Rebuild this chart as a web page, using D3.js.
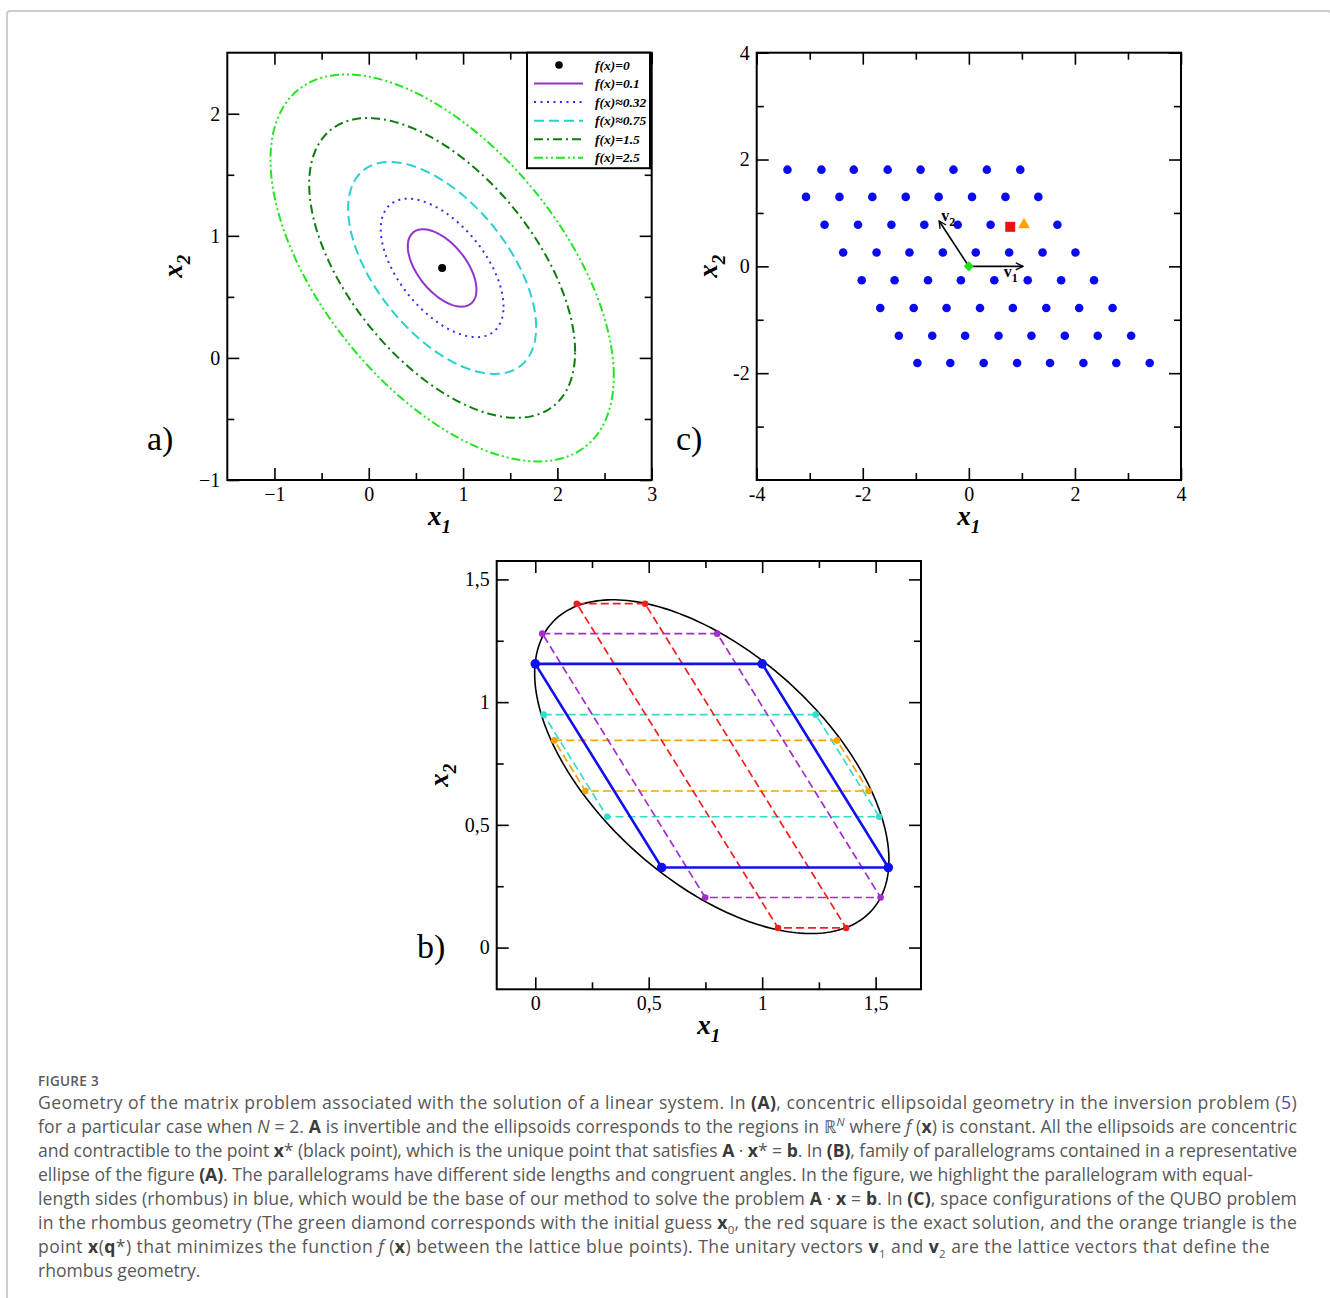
<!DOCTYPE html>
<html>
<head>
<meta charset="utf-8">
<script src="https://cdn.jsdelivr.net/npm/d3@7"></script>
<style>
  body { margin: 0; background: #fff; }
  #border { position: absolute; left: 6px; top: 10px; width: 1322px; height: 1330px;
            border: 2px solid #cdcdcd; border-bottom: none; border-radius: 4px 4px 0 0; }
  #chart { position: absolute; left: 0; top: 0; }
  #figlabel { position: absolute; left: 38px; top: 1071px; font-family: "Open Sans", "Noto Sans", sans-serif;
              font-size: 13.5px; font-weight: 600; color: #5a5a5a; letter-spacing: 0.3px; line-height: 20px; }
  #caption { position: absolute; left: 38px; top: 1090px; font-family: "Open Sans", "Noto Sans", sans-serif;
             font-size: 17.6px; font-weight: 400; color: #585858; }
  .cl { white-space: nowrap; height: 24px; line-height: 24px; text-align: left; }
  .cl b { font-weight: 700; color: #3a3a3a; }
  .cl sub, .cl sup { font-size: 11.5px; line-height: 0; }
  .cl .lnk { color: #4a4ab0; }
</style>
</head>
<body>
<div id="border"></div>
<div id="chart"></div>
<div id="figlabel">FIGURE 3</div>
<div id="caption"></div>
<script>
// ---------- panel a: level sets of f(x) around x*
const xStar = [0.778, 0.737];
const formInv = [[1.325, -0.645], [-0.645, 1.005]];   // inverse of the quadratic form
const levelValues = [0.1, 0.32, 0.75, 1.5, 2.5];
const levelLabels = ["f(x)=0", "f(x)=0.1", "f(x)≈0.32", "f(x)≈0.75", "f(x)=1.5", "f(x)=2.5"];
const levelColors = ["#000000", "#9134c9", "#2f2ff2", "#2ad0d0", "#0d7d0d", "#22e622"];
const levelDashes = [null, null, "2,4.5", "10,5", "9,4,2,4", "9,3,2,3,2,3"];

// ---------- panel b: parallelograms inside the ellipse f(x)=0.46
const levelB = 0.46;
const pgRed    = [[0.183, 1.401], [0.484, 1.401], [1.370, 0.080], [1.070, 0.080]];
const pgPurple = [[0.031, 1.279], [0.802, 1.279], [1.522, 0.204], [0.749, 0.204]];
const pgCyan   = [[0.037, 0.949], [1.236, 0.949], [1.516, 0.533], [0.317, 0.533]];
const pgOrange = [[0.084, 0.844], [1.330, 0.844], [1.469, 0.638], [0.221, 0.638]];
const pgBlue   = [[0.000, 1.156], [1.000, 1.156], [1.556, 0.326], [0.557, 0.326]];

// ---------- panel c: lattice points, one row per x2 value
const latticeRowsY = [1.81, 1.30, 0.78, 0.26, -0.26, -0.78, -1.30, -1.81];
const latticeRowsX = [
  [-3.42, -2.78, -2.17, -1.53, -0.91, -0.29, 0.34, 0.97],
  [-3.07, -2.44, -1.82, -1.19, -0.57, 0.06, 0.69, 1.31],
  [-2.72, -2.09, -1.46, -0.84, -0.21, 0.41, 1.67],
  [-2.37, -1.74, -1.12, -0.49, 0.13, 0.76, 1.39, 2.01],
  [-2.02, -1.40, -0.77, -0.15, 0.48, 1.11, 1.74, 2.36],
  [-1.67, -1.04, -0.42, 0.21, 0.83, 1.46, 2.08, 2.71],
  [-1.32, -0.69, -0.07, 0.56, 1.18, 1.81, 2.43, 3.06],
  [-0.97, -0.35, 0.28, 0.91, 1.53, 2.16, 2.78, 3.41]
];
const initialGuess = [0, 0];
const exactSolution = [0.78, 0.74];
const bestLattice = [1.04, 0.78];
const v1 = [1.02, 0];
const v2 = [-0.56, 0.85];

const captionLines = [
  'Geometry of the matrix problem associated with the solution of a linear system. In <b>(A)</b>, concentric ellipsoidal geometry in the inversion problem (<span class="lnk">5</span>)',
  'for a particular case when <i>N</i> = 2. <b>A</b> is invertible and the ellipsoids corresponds to the regions in ℝ<sup><i>N</i></sup> where <i>f</i> (<b>x</b>) is constant. All the ellipsoids are concentric',
  'and contractible to the point <b>x</b>* (black point), which is the unique point that satisfies <b>A</b> · <b>x</b>* = <b>b</b>. In <b>(B)</b>, family of parallelograms contained in a representative',
  'ellipse of the figure <b>(A)</b>. The parallelograms have different side lengths and congruent angles. In the figure, we highlight the parallelogram with equal-',
  'length sides (rhombus) in blue, which would be the base of our method to solve the problem <b>A</b> · <b>x</b> = <b>b</b>. In <b>(C)</b>, space configurations of the QUBO problem',
  'in the rhombus geometry (The green diamond corresponds with the initial guess <b>x</b><sub>0</sub>, the red square is the exact solution, and the orange triangle is the',
  'point <b>x</b>(<b>q</b>*) that minimizes the function <i>f</i> (<b>x</b>) between the lattice blue points). The unitary vectors <b>v</b><sub>1</sub> and <b>v</b><sub>2</sub> are the lattice vectors that define the',
  'rhombus geometry.'
];
const captionWidths = [1259, 1259, 1259, 1215, 1259, 1259, 1232, 0];

const SERIF = "'Liberation Serif', 'Times New Roman', serif";

const svg = d3.select("#chart").append("svg")
  .attr("width", 1330)
  .attr("height", 1060);

// Frame with inward ticks on all four sides, labels on bottom and left.
function panel(o) {
  const x = d3.scaleLinear().domain(o.xDomain).range([o.left, o.right]);
  const y = d3.scaleLinear().domain(o.yDomain).range([o.bottom, o.top]);
  const g = svg.append("g");
  const sides = [
    {make: d3.axisBottom, s: x, at: `translate(0,${o.bottom})`, major: o.xMajor, minor: o.xMinor, labels: true},
    {make: d3.axisTop, s: x, at: `translate(0,${o.top})`, major: o.xMajor, minor: o.xMinor, labels: false},
    {make: d3.axisLeft, s: y, at: `translate(${o.left},0)`, major: o.yMajor, minor: o.yMinor, labels: true},
    {make: d3.axisRight, s: y, at: `translate(${o.right},0)`, major: o.yMajor, minor: o.yMinor, labels: false}
  ];
  sides.forEach(sd => {
    g.append("g").attr("transform", sd.at)
      .call(sd.make(sd.s).tickValues(sd.minor).tickSize(-7).tickFormat(""));
    g.append("g").attr("transform", sd.at)
      .call(sd.make(sd.s).tickValues(sd.major).tickSize(-12).tickPadding(7)
        .tickFormat(sd.labels ? o.fmt : ""));
  });
  g.selectAll(".domain").remove();
  g.selectAll(".tick line").attr("stroke", "#000").attr("stroke-width", 1.6);
  g.selectAll(".tick text").attr("font-family", SERIF).attr("font-size", 20).attr("fill", "#000");

  g.append("rect")
    .attr("x", o.left).attr("y", o.top)
    .attr("width", o.right - o.left).attr("height", o.bottom - o.top)
    .attr("fill", "none").attr("stroke", "#000").attr("stroke-width", 2);

  // axis titles
  const cx = (o.left + o.right) / 2, cy = (o.top + o.bottom) / 2;
  const tx = svg.append("text")
    .attr("x", cx).attr("y", o.bottom + 45)
    .attr("text-anchor", "middle")
    .attr("font-family", SERIF).attr("font-weight", "bold").attr("font-style", "italic")
    .attr("font-size", 27);
  tx.append("tspan").text("x");
  tx.append("tspan").attr("font-size", 19).attr("dy", 8).text("1");

  const ty = svg.append("text")
    .attr("transform", `translate(${o.left - o.titleGap},${cy}) rotate(-90)`)
    .attr("text-anchor", "middle")
    .attr("font-family", SERIF).attr("font-weight", "bold").attr("font-style", "italic")
    .attr("font-size", 27);
  ty.append("tspan").text("x");
  ty.append("tspan").attr("font-size", 19).attr("dy", 8).text("2");

  svg.append("text")
    .attr("x", o.tagX).attr("y", o.tagY)
    .attr("font-family", SERIF).attr("font-size", 34)
    .text(o.tag);

  return {x, y, g};
}

function ellipsePoints(c) {
  const l11 = Math.sqrt(formInv[0][0]);
  const l21 = formInv[1][0] / l11;
  const l22 = Math.sqrt(formInv[1][1] - l21 * l21);
  const r = Math.sqrt(c);
  return d3.range(0, 360, 1.5).map(a => {
    const t = a * Math.PI / 180;
    return [xStar[0] + r * l11 * Math.cos(t), xStar[1] + r * (l21 * Math.cos(t) + l22 * Math.sin(t))];
  });
}

// ================= panel a =================
const pa = panel({
  left: 227.3, right: 651.7, top: 52.7, bottom: 480,
  xDomain: [-1.5, 3], yDomain: [-1, 2.5],
  xMajor: [-1, 0, 1, 2, 3], xMinor: [-0.5, 0.5, 1.5, 2.5],
  yMajor: [-1, 0, 1, 2], yMinor: [-0.5, 0.5, 1.5],
  fmt: d3.format("d"), titleGap: 45, tag: "a)", tagX: 147, tagY: 450
});

const lineA = d3.line().x(d => pa.x(d[0])).y(d => pa.y(d[1])).curve(d3.curveLinearClosed);

pa.g.selectAll("path.level")
  .data(levelValues)
  .join("path")
  .attr("class", "level")
  .attr("d", d => lineA(ellipsePoints(d)))
  .attr("fill", "none")
  .attr("stroke", (d, i) => levelColors[i + 1])
  .attr("stroke-width", 2)
  .attr("stroke-dasharray", (d, i) => levelDashes[i + 1]);

pa.g.append("circle")
  .attr("cx", pa.x(xStar[0])).attr("cy", pa.y(xStar[1])).attr("r", 4)
  .attr("fill", "#000");

// legend
const legend = pa.g.append("g");
legend.append("rect")
  .attr("x", 527).attr("y", 52.7).attr("width", 123).attr("height", 115.5)
  .attr("fill", "#fff").attr("stroke", "#000").attr("stroke-width", 2);
levelLabels.forEach((lab, i) => {
  const yy = 65 + i * 18.55;
  if (i === 0) {
    legend.append("circle").attr("cx", 559).attr("cy", yy).attr("r", 3.8).attr("fill", "#000");
  } else {
    legend.append("line")
      .attr("x1", 534).attr("x2", 583).attr("y1", yy).attr("y2", yy)
      .attr("stroke", levelColors[i]).attr("stroke-width", 2)
      .attr("stroke-dasharray", levelDashes[i]);
  }
  legend.append("text")
    .attr("x", 595).attr("y", yy + 4.5)
    .attr("font-family", SERIF).attr("font-weight", "bold").attr("font-style", "italic")
    .attr("font-size", 13.5)
    .text(lab);
});

// ================= panel c =================
const pc = panel({
  left: 756.7, right: 1181, top: 52.7, bottom: 480,
  xDomain: [-4, 4], yDomain: [-4, 4],
  xMajor: [-4, -2, 0, 2, 4], xMinor: [-3, -1, 1, 3],
  yMajor: [-2, 0, 2, 4], yMinor: [-3, -1, 1, 3],
  fmt: d => String(d), titleGap: 40, tag: "c)", tagX: 676, tagY: 450
});

const lattice = latticeRowsY.flatMap((yv, r) => latticeRowsX[r].map(xv => [xv, yv]));
pc.g.selectAll("circle.lat")
  .data(lattice)
  .join("circle")
  .attr("class", "lat")
  .attr("cx", d => pc.x(d[0])).attr("cy", d => pc.y(d[1])).attr("r", 4.3)
  .attr("fill", "#0a0af0");

svg.append("defs").append("marker")
  .attr("id", "arr").attr("viewBox", "0 0 10 10")
  .attr("refX", 9).attr("refY", 5)
  .attr("markerWidth", 9).attr("markerHeight", 9)
  .attr("markerUnits", "userSpaceOnUse")
  .attr("orient", "auto")
  .append("path").attr("d", "M1,1 L9,5 L1,9")
  .attr("fill", "none").attr("stroke", "#000").attr("stroke-width", 1.5);

[v1, v2].forEach(v => {
  pc.g.append("line")
    .attr("x1", pc.x(initialGuess[0])).attr("y1", pc.y(initialGuess[1]))
    .attr("x2", pc.x(initialGuess[0] + v[0])).attr("y2", pc.y(initialGuess[1] + v[1]))
    .attr("stroke", "#000").attr("stroke-width", 1.6)
    .attr("marker-end", "url(#arr)");
});

function vecLabel(px, py, sub) {
  const t = pc.g.append("text").attr("x", px).attr("y", py)
    .attr("font-family", SERIF).attr("font-weight", "bold").attr("font-size", 16);
  t.append("tspan").text("v");
  t.append("tspan").attr("font-size", 12).attr("dy", 5).text(sub);
}
vecLabel(pc.x(0.66), pc.y(-0.2), "1");
vecLabel(pc.x(-0.52), pc.y(0.85), "2");

pc.g.append("path")
  .attr("d", d3.symbol(d3.symbolSquare, 52)())
  .attr("transform", `translate(${pc.x(initialGuess[0])},${pc.y(initialGuess[1])}) rotate(45)`)
  .attr("fill", "#22dd22");
pc.g.append("path")
  .attr("d", d3.symbol(d3.symbolSquare, 100)())
  .attr("transform", `translate(${pc.x(exactSolution[0])},${pc.y(exactSolution[1])})`)
  .attr("fill", "#ee1111");
pc.g.append("path")
  .attr("d", d3.symbol(d3.symbolTriangle, 62)())
  .attr("transform", `translate(${pc.x(bestLattice[0])},${pc.y(bestLattice[1])})`)
  .attr("fill", "#ffa200");

// ================= panel b =================
const commaFmt = d => String(d).replace(".", ",");
const pb = panel({
  left: 496.7, right: 921, top: 561, bottom: 989.3,
  xDomain: [-0.17, 1.7], yDomain: [-0.17, 1.575],
  xMajor: [0, 0.5, 1, 1.5], xMinor: [0.25, 0.75, 1.25],
  yMajor: [0, 0.5, 1, 1.5], yMinor: [0.25, 0.75, 1.25],
  fmt: commaFmt, titleGap: 49, tag: "b)", tagX: 417, tagY: 958
});

pb.g.append("path")
  .attr("d", d3.line().x(d => pb.x(d[0])).y(d => pb.y(d[1])).curve(d3.curveLinearClosed)(ellipsePoints(levelB)))
  .attr("fill", "none").attr("stroke", "#000").attr("stroke-width", 1.6);

const closed = d3.line().x(d => pb.x(d[0])).y(d => pb.y(d[1])).curve(d3.curveLinearClosed);
const dashedSets = [
  {pts: pgCyan, color: "#35dccc"},
  {pts: pgOrange, color: "#ffa100"},
  {pts: pgPurple, color: "#a22ed0"},
  {pts: pgRed, color: "#f21d1d"}
];
dashedSets.forEach(s => {
  pb.g.append("path").attr("d", closed(s.pts))
    .attr("fill", "none").attr("stroke", s.color).attr("stroke-width", 1.7)
    .attr("stroke-dasharray", "8,4");
});
pb.g.append("path").attr("d", closed(pgBlue))
  .attr("fill", "none").attr("stroke", "#1010f0").attr("stroke-width", 2.6);

dashedSets.forEach(s => {
  pb.g.selectAll(null).data(s.pts).join("circle")
    .attr("cx", d => pb.x(d[0])).attr("cy", d => pb.y(d[1])).attr("r", 3.3)
    .attr("fill", s.color);
});
pb.g.selectAll(null).data(pgBlue).join("circle")
  .attr("cx", d => pb.x(d[0])).attr("cy", d => pb.y(d[1])).attr("r", 4.8)
  .attr("fill", "#1010f0");

// ================= caption =================
const cap = d3.select("#caption");
cap.selectAll("div.cl")
  .data(captionLines)
  .join("div")
  .attr("class", "cl")
  .html(d => d)
  .each(function(d, i) {
    const target = captionWidths[i];
    if (!target) return;
    this.style.width = target + "px";
    const r = document.createRange();
    r.selectNodeContents(this);
    const natural = r.getBoundingClientRect().width;
    const n = this.textContent.length;
    // squeeze or loosen the tracking, leave the rest to justification
    const ls = Math.min(0.5, (target - 2 - natural) / n);
    this.style.letterSpacing = ls.toFixed(3) + "px";
    this.style.textAlignLast = "justify";
    this.style.textAlign = "justify";
  });
</script>
</body>
</html>
